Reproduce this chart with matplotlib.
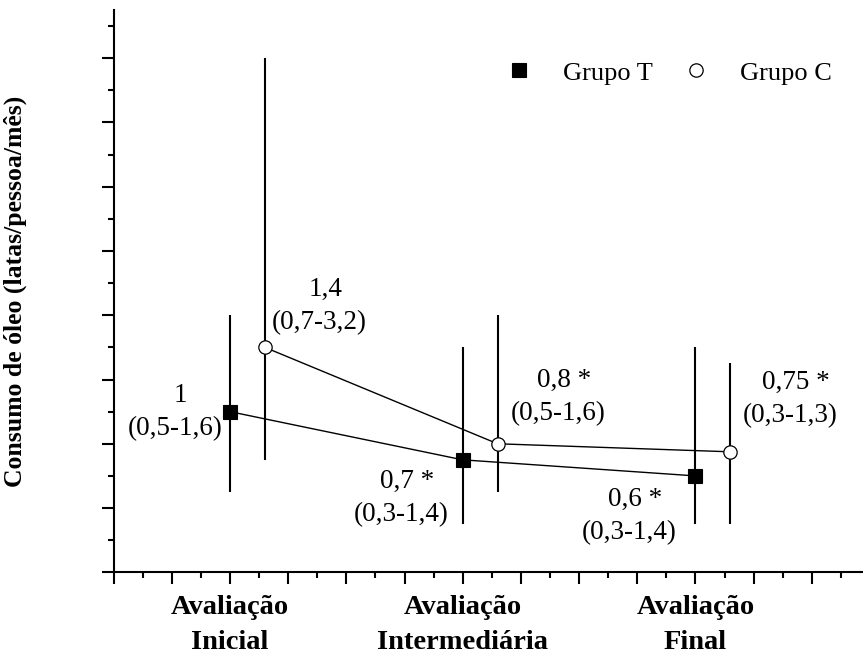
import matplotlib
matplotlib.use("Agg")
import matplotlib.pyplot as plt
from matplotlib.ticker import MultipleLocator, NullFormatter

plt.rcParams["font.family"] = ["Liberation Serif", "DejaVu Serif"]

# --- data -------------------------------------------------------------
categories = ["Avaliação\nInicial", "Avaliação\nIntermediária", "Avaliação\nFinal"]
x_pos = [2, 6, 10]
c_shift = 0.6

t_median = [1.0, 0.7, 0.6]
t_low = [0.5, 0.3, 0.3]
t_high = [1.6, 1.4, 1.4]
t_sig = [False, True, True]

c_median = [1.4, 0.8, 0.75]
c_low = [0.7, 0.5, 0.3]
c_high = [3.2, 1.6, 1.3]
c_sig = [False, True, True]

# label block centres (data coordinates)
t_label_at = [(1.05, 1.00), (4.95, 0.46), (8.86, 0.35)]
c_label_at = [(3.54, 1.66), (7.64, 1.09), (11.62, 1.08)]


def fmt(v):
    return f"{v:g}".replace(".", ",")


W, H = 863, 659
fig = plt.figure(figsize=(W / 100, H / 100), dpi=100)
left_px, bottom_px, top_px = 113.6, 572.3, 10.0
ax = fig.add_axes([left_px / W, (H - bottom_px) / H,
                   (W - left_px) / W, (bottom_px - top_px) / H])

ax.set_xlim(0, 12.88)
ax.set_ylim(0, 3.5)
for s in ("top", "right"):
    ax.spines[s].set_visible(False)
for s in ("left", "bottom"):
    ax.spines[s].set_linewidth(1.5)

ax.yaxis.set_major_locator(MultipleLocator(0.4))
ax.yaxis.set_minor_locator(MultipleLocator(0.2))
ax.yaxis.set_major_formatter(NullFormatter())
ax.xaxis.set_minor_locator(MultipleLocator(0.5))

label_map = dict(zip(x_pos, categories))
major_x = list(range(0, 13))
ax.set_xticks(major_x, labels=[label_map.get(i, "") for i in major_x],
              fontsize=20.5, fontweight="bold", linespacing=1.55)

ax.tick_params(which="major", direction="out", length=8.6, width=1.5)
ax.tick_params(which="minor", direction="out", length=4.3, width=1.5)
ax.tick_params(axis="x", which="major", pad=7.5)

ax.set_ylabel("Consumo de óleo (latas/pessoa/mês)", fontsize=18.5,
              fontweight="bold", va="center")
ax.yaxis.set_label_coords((15.5 - left_px) / (W - left_px), 0.5)

# --- groups -----------------------------------------------------------
xt = x_pos
xc = [x + c_shift for x in x_pos]

ax.errorbar(xt, t_median,
            yerr=[[m - lo for m, lo in zip(t_median, t_low)],
                  [hi - m for m, hi in zip(t_median, t_high)]],
            fmt="none", ecolor="black", elinewidth=1.5, capsize=0, zorder=2)
ax.errorbar(xc, c_median,
            yerr=[[m - lo for m, lo in zip(c_median, c_low)],
                  [hi - m for m, hi in zip(c_median, c_high)]],
            fmt="none", ecolor="black", elinewidth=1.5, capsize=0, zorder=2)

ax.plot(xt, t_median, color="black", lw=1.0, zorder=3)
ax.plot(xc, c_median, color="black", lw=1.0, zorder=3)

ht, = ax.plot(xt, t_median, "s", ms=9.6, mfc="black", mec="black",
              mew=0.8, zorder=4, label="Grupo T")
hc, = ax.plot(xc, c_median, "o", ms=9.6, mfc="white", mec="black",
              mew=0.9, zorder=4, label="Grupo C")


def annotate(pos, med, lo, hi, sig):
    top = fmt(med) + (" *" if sig else "")
    bottom = f"({fmt(lo)}-{fmt(hi)})"
    ax.annotate(top, xy=pos, xytext=(4.3, 11.9), textcoords="offset points",
                ha="center", va="center", fontsize=19.5)
    ax.annotate(bottom, xy=pos, xytext=(0, -11.9), textcoords="offset points",
                ha="center", va="center", fontsize=19.5)


for p, m, lo, hi, s in zip(t_label_at, t_median, t_low, t_high, t_sig):
    annotate(p, m, lo, hi, s)
for p, m, lo, hi, s in zip(c_label_at, c_median, c_low, c_high, c_sig):
    annotate(p, m, lo, hi, s)

ax.legend(handles=[ht, hc], ncol=2, frameon=False, fontsize=19,
          loc="center left", bbox_to_anchor=(499.7 / W, 1 - 73 / H),
          bbox_transform=fig.transFigure, borderpad=0, borderaxespad=0,
          handlelength=1.5, handletextpad=0.9, columnspacing=0.9)

fig.savefig("out.png", dpi=100)
